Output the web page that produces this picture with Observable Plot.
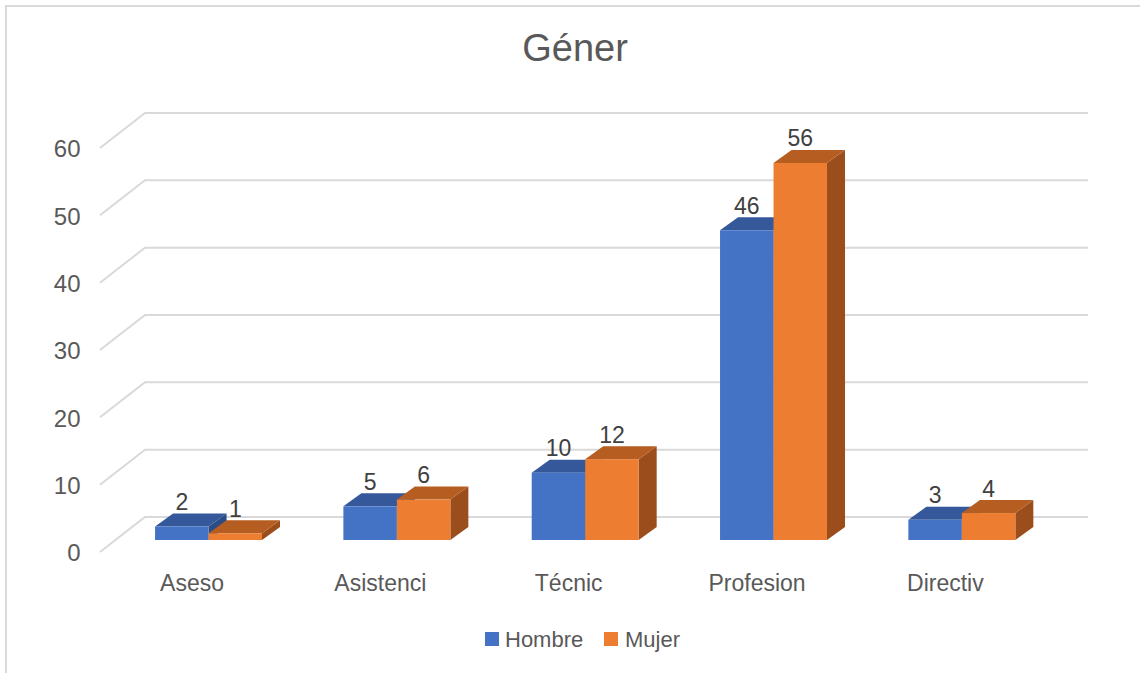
<!DOCTYPE html>
<html>
<head>
<meta charset="utf-8">
<script src="https://cdn.jsdelivr.net/npm/d3@7"></script>
<script src="https://cdn.jsdelivr.net/npm/@observablehq/plot@0.6"></script>
<style>
  body { margin: 0; background: #fff; font-family: "Liberation Sans", Arial, Helvetica, sans-serif; }
  #chart { position: relative; width: 1140px; height: 673px; overflow: hidden; background: #fff; }
  #chart svg { position: absolute; left: 0; top: 0; }
  #frame { position: absolute; left: 5px; top: 5px; width: 1200px; height: 720px;
           border-left: 2px solid #d9d9d9; border-top: 2px solid #d9d9d9; }
  #title { position: absolute; left: 0; top: 29px; width: 1150px; text-align: center;
           font-size: 38px; line-height: 38px; color: #595959; }
  .key { position: absolute; top: 632px; width: 14px; height: 14px; }
  .keytext { position: absolute; top: 629px; font-size: 22px; line-height: 22px; color: #595959; white-space: nowrap; }
</style>
</head>
<body>
<div id="chart">
  <div id="frame"></div>
  <div id="title">Géner</div>
</div>
<script>
// Categorías del eje X y valores por sexo
const categorias = ["Aseso", "Asistenci", "Técnic", "Profesion", "Directiv"];
const series = ["Hombre", "Mujer"];
const hombre = [2, 5, 10, 46, 3];
const mujer = [1, 6, 12, 56, 4];
const yTicks = [0, 10, 20, 30, 40, 50, 60];

// Colores de cada cara de las columnas 3D
const colores = {
  Hombre: {front: "#4472C4", top: "#34589A", side: "#2C4C85"},
  Mujer:  {front: "#ED7D31", top: "#B65D21", side: "#9B4E1C"}
};

// Tabla larga construida a partir de los arreglos
const valoresPorSerie = {Hombre: hombre, Mujer: mujer};
const filas = categorias.flatMap((c, i) =>
  series.map(s => ({categoria: c, serie: s, valor: valoresPorSerie[s][i]}))
);

// Profundidad de cada columna y del suelo (en píxeles)
const prof = {dx: 18, dy: -13};
const suelo = {frontX: 100, backX: 145, endX: 1088, front: 12, back: -23};

// Líneas de cuadrícula en perspectiva: diagonal en la pared lateral y horizontal al fondo
function cuadricula(index, scales, values) {
  const g = d3.create("svg:g").attr("fill", "none").attr("stroke", "#d9d9d9").attr("stroke-width", 2);
  for (const i of index) {
    const y = values.y[i];
    g.append("path").attr("d",
      `M${suelo.frontX},${y + suelo.front}L${suelo.backX},${y + suelo.back}L${suelo.endX},${y + suelo.back}`);
  }
  return g.node();
}

// Columnas 3D: cara frontal, superior y lateral, más la etiqueta de valor
function columnas3d(index, scales, values) {
  const bw = scales.x.bandwidth();
  const w = bw / series.length;
  const g = d3.create("svg:g");
  const etiquetas = [];
  for (const i of index) {
    const d = filas[i];
    const k = series.indexOf(d.serie);
    const x0 = values.x[i] + k * w, x1 = x0 + w;
    const yt = values.y2[i], yb = values.y1[i];
    const c = colores[d.serie];
    g.append("path").attr("fill", c.side).attr("d",
      `M${x1},${yt}L${x1 + prof.dx},${yt + prof.dy}L${x1 + prof.dx},${yb + prof.dy}L${x1},${yb}Z`);
    g.append("path").attr("fill", c.top).attr("d",
      `M${x0},${yt}L${x1},${yt}L${x1 + prof.dx},${yt + prof.dy}L${x0 + prof.dx},${yt + prof.dy}Z`);
    g.append("rect").attr("fill", c.front)
      .attr("x", x0).attr("y", yt).attr("width", w).attr("height", yb - yt);
    etiquetas.push({x: (x0 + x1) / 2, y: yt + prof.dy - 3.5, text: d.valor});
  }
  g.append("g")
    .attr("font-size", 23).attr("fill", "#404040").attr("text-anchor", "middle")
    .selectAll("text").data(etiquetas).join("text")
    .attr("x", e => e.x).attr("y", e => e.y).text(e => e.text);
  return g.node();
}

const plot = Plot.plot({
  width: 1140,
  height: 673,
  marginLeft: 73.7,
  marginRight: 43.3,
  marginTop: 136,
  marginBottom: 133,
  x: {domain: categorias, padding: 0.432, round: false, axis: null},
  y: {domain: [0, 60], axis: null},
  style: {fontFamily: "'Liberation Sans', Arial, Helvetica, sans-serif", background: "transparent", overflow: "visible"},
  marks: [
    Plot.ruleY(yTicks, {y: d => d, render: cuadricula}),
    Plot.text(yTicks, {
      y: d => d, text: d => String(d), frameAnchor: "left", textAnchor: "end",
      dx: 6.3, dy: 13, fontSize: 24, fill: "#595959"
    }),
    Plot.barY(filas, {x: "categoria", y1: () => 0, y2: "valor", render: columnas3d}),
    Plot.text(categorias, {
      x: d => d, y: () => 0, text: d => d, dx: -17, dy: 43, fontSize: 23, fill: "#595959"
    })
  ]
});

const chart = document.getElementById("chart");
chart.insertBefore(plot, chart.firstChild);

// Leyenda
const leyenda = [
  {serie: "Hombre", key: 485, text: 505},
  {serie: "Mujer", key: 604, text: 625}
];
for (const l of leyenda) {
  const sq = document.createElement("div");
  sq.className = "key";
  sq.style.left = l.key + "px";
  sq.style.background = colores[l.serie].front;
  chart.appendChild(sq);
  const t = document.createElement("div");
  t.className = "keytext";
  t.style.left = l.text + "px";
  t.textContent = l.serie;
  chart.appendChild(t);
}
</script>
</body>
</html>
